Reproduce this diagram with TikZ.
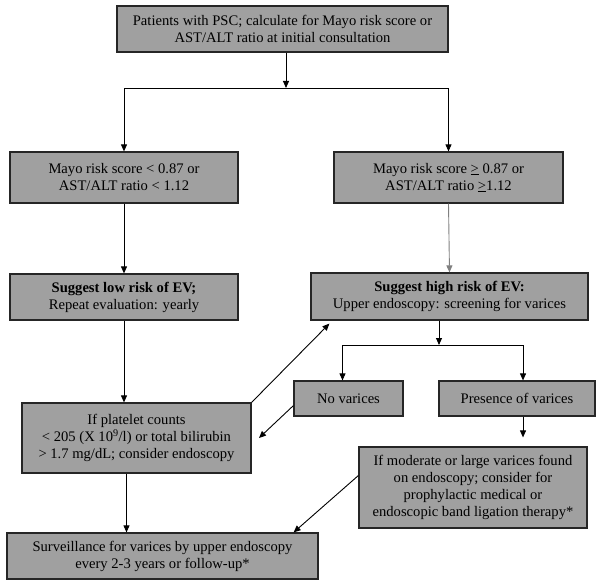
\documentclass[tikz,border=0pt]{standalone}
\usepackage{fontspec}
\setmainfont{Liberation Serif}
\usepackage{xcolor}
\usetikzlibrary{arrows.meta,positioning}
\definecolor{boxgray}{HTML}{A0A0A0}
\definecolor{edgegray}{HTML}{262626}

\begin{document}
\begin{tikzpicture}[
        x=1pt, y=-1pt,
        flowbox/.style={draw=edgegray, line width=1.2pt, fill=boxgray, align=center, inner sep=0pt,
            font=\fontsize{14.6}{17}\selectfont},
        arr/.style={-{Triangle[length=7pt, width=6pt]}, line width=0.9pt},
        thinarr/.style={arr, draw=gray}
    ]
    \useasboundingbox (0,0) rectangle (600,586);

    % === Start ===
    \node[flowbox, minimum width=331, minimum height=46] (start) at (282.5, 29)
        {Patients with PSC; calculate for Mayo risk score or\\AST/ALT ratio at initial consultation};
    \coordinate (split1) at (286, 88);

    % === Risk scores ===
    \node[flowbox, minimum width=228, minimum height=51] (lowscore) at (124, 177.5)
        {Mayo risk score < 0.87 or\\AST/ALT ratio < 1.12};
    \node[flowbox, minimum width=229, minimum height=51] (highscore) at (448.5, 177.5)
        {Mayo risk score \underline{>} 0.87 or\\AST/ALT ratio \underline{>}1.12};

    % === Risk of EV ===
    \node[flowbox, minimum width=228, minimum height=46] (lowev) at (124, 297)
        {\textbf{Suggest low risk of EV;}\\Repeat evaluation: yearly};
    \node[flowbox, minimum width=277, minimum height=47] (highev) at (449.5, 296.5)
        {\textbf{Suggest high risk of EV:}\\Upper endoscopy: screening for varices};
    \coordinate (split2) at (439, 345);

    % === Endoscopy result ===
    \node[flowbox, minimum width=109, minimum height=35] (novar) at (348.5, 398.5) {No varices};
    \node[flowbox, minimum width=156, minimum height=35] (presvar) at (517, 398.5) {Presence of varices};

    % === Follow-up ===
    \node[flowbox, minimum width=229, minimum height=70] (platelet) at (136.5, 438)
        {If platelet counts\\< 205 (X 10\textsuperscript{9}/l) or total bilirubin\\> 1.7 mg/dL; consider endoscopy};
    \node[flowbox, minimum width=228, minimum height=81] (moderate) at (473, 487.5)
        {If moderate or large varices found\\on endoscopy; consider for\\prophylactic medical or\\endoscopic band ligation therapy*};
    \node[flowbox, minimum width=311, minimum height=46] (surveil) at (162.5, 556)
        {Surveillance for varices by upper endoscopy\\every 2-3 years or follow-up*};
    \coordinate (nvtip) at (259, 438);

    % Connectors
    \draw[arr] (start.south -| split1) -- (split1);
    \draw[arr] (split1) -| (lowscore.north);
    \draw[arr] (split1) -| (highscore.north);
    \draw[arr] (lowscore.south) -- (lowev.north);
    \draw[thinarr] (highscore.south) -- (highev.north);
    \draw[arr] (lowev.south) -- (lowev.south |- platelet.north);
    \draw[arr] (highev.south -| split2) -- (split2);
    \draw[arr] (split2) -| ([xshift=-6]novar.north);
    \draw[arr] (split2) -| ([xshift=6]presvar.north);
    \draw[arr] ([xshift=6]presvar.south) -- ([xshift=6,yshift=9]presvar.south |- moderate.north);
    \draw[arr] ([xshift=-10]platelet.south) -- ([xshift=-10]platelet.south |- surveil.north);
    \draw[arr] (platelet.north east) -- ([xshift=19,yshift=-3]highev.south west);
    \draw[arr] ([yshift=11]novar.south west) -- (nvtip);
    \draw[arr] ([yshift=12]moderate.west) -- ([xshift=-25]surveil.north east);

\end{tikzpicture}
\end{document}
